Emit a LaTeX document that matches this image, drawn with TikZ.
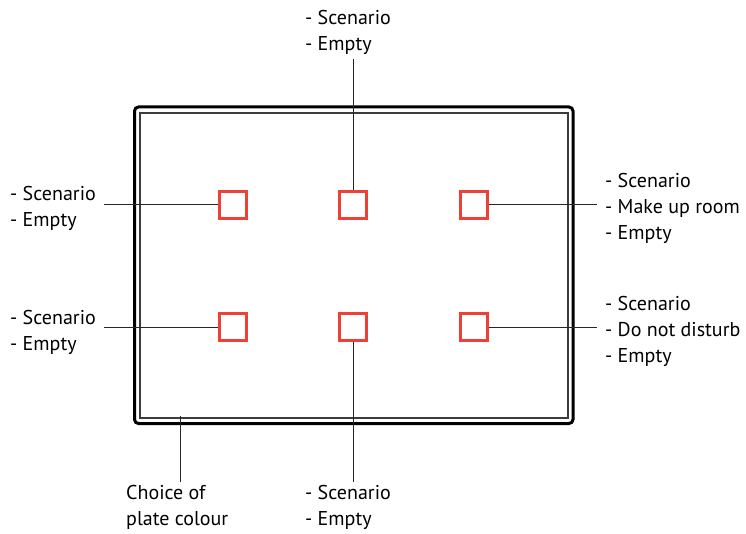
\documentclass[tikz,border=0pt]{standalone}
\usepackage{fontspec}
\setmainfont{PT Sans}
\definecolor{sqred}{RGB}{238,64,54}
\definecolor{inner}{RGB}{60,60,60}
\begin{document}
\begin{tikzpicture}[x=1pt,y=-1pt,
  sq/.style={draw=sqred,line width=2.4pt,minimum size=27pt,inner sep=0pt},
  lbl/.style={anchor=base west,align=left,inner sep=0pt,font=\fontsize{20}{26}\selectfont},
  conn/.style={draw=black!85,line width=1pt}]
\useasboundingbox[fill=white] (0,0) rectangle (746,534);
% frame
\draw[line width=3pt,rounded corners=4pt] (134.5,107) rectangle (573,423.5);
\draw[inner,line width=1.5pt] (140,113) rectangle (568,418);
% squares
\node[sq] (s1) at (233,205) {};
\node[sq] (s2) at (353,205) {};
\node[sq] (s3) at (474,205) {};
\node[sq] (s4) at (233,327) {};
\node[sq] (s5) at (353,327) {};
\node[sq] (s6) at (474,327) {};
% connector ends
\coordinate (c1) at (104,205);
\coordinate (c2) at (353,59);
\coordinate (c3) at (597,205);
\coordinate (c4) at (104,327);
\coordinate (c5) at (353,482);
\coordinate (c6) at (597,327);
\coordinate (p1) at (180,416);
\coordinate (p2) at (180,482);
\draw[conn] (c1) -- (s1.west);
\draw[conn] (c2) -- (s2.north);
\draw[conn] (s3.east) -- (c3);
\draw[conn] (c4) -- (s4.west);
\draw[conn] (s5.south) -- (c5);
\draw[conn] (s6.east) -- (c6);
\draw[conn] (p1) -- (p2);
% labels (anchored at the baseline of the last line)
\node[lbl] (l2) at (305,51) {- Scenario\\- Empty};
\node[lbl] (l1) at (10,227) {- Scenario\\- Empty};
\node[lbl] (l4) at (10,350) {- Scenario\\- Empty};
\node[lbl] (l3) at (605,240) {- Scenario\\- Make up room\\- Empty};
\node[lbl] (l6) at (605,362) {- Scenario\\- Do not disturb\\- Empty};
\node[lbl] (l5) at (305,525) {- Scenario\\- Empty};
\node[lbl] (lp) at (126,525) {Choice of\\plate colour};
\end{tikzpicture}
\end{document}
